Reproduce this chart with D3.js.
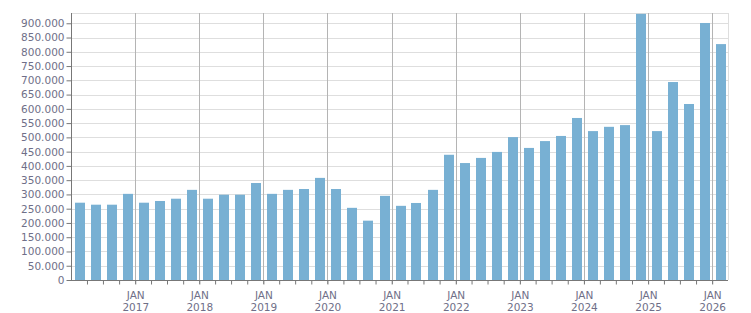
<!DOCTYPE html>
<html lang="en">
<head>
    <meta charset="UTF-8">
    <title>Quarterly chart</title>
    <script src="https://cdn.jsdelivr.net/npm/d3@7"></script>
    <style>
        body { margin: 0; background: white; }
        .tick text { font-family: "DejaVu Sans", Verdana, sans-serif; font-size: 10.5px; fill: #6f6f88; }
        .bar { fill: #78b0d3; }
    </style>
</head>
<body>

<script>
    const width = 751, height = 313;
    const margin = {top: 13, right: 23, bottom: 33, left: 71};

    // one bar per quarter, Q1 2016 .. Q1 2026
    const quarters = [
        "2016-01", "2016-04", "2016-07", "2016-10",
        "2017-01", "2017-04", "2017-07", "2017-10",
        "2018-01", "2018-04", "2018-07", "2018-10",
        "2019-01", "2019-04", "2019-07", "2019-10",
        "2020-01", "2020-04", "2020-07", "2020-10",
        "2021-01", "2021-04", "2021-07", "2021-10",
        "2022-01", "2022-04", "2022-07", "2022-10",
        "2023-01", "2023-04", "2023-07", "2023-10",
        "2024-01", "2024-04", "2024-07", "2024-10",
        "2025-01", "2025-04", "2025-07", "2025-10",
        "2026-01"
    ];
    const values = [
        271000, 264000, 264000, 302000,
        271000, 277000, 285000, 316000,
        285000, 299000, 299000, 340000,
        302000, 316000, 319000, 358000,
        319000, 253000, 208000, 295000,
        260000, 270000, 316000, 439000,
        410000, 428000, 449000, 501000,
        463000, 487000, 505000, 568000,
        522000, 537000, 543000, 933000,
        522000, 694000, 617000, 901000,
        827000
    ];
    const yTicks = d3.range(0, 900001, 50000);

    const parse = d3.timeParse("%Y-%m");
    const data = quarters.map((q, i) => ({start: parse(q), value: values[i]}));

    const x = d3.scaleTime()
                .domain([parse("2016-01"), parse("2026-04")])
                .range([margin.left, width - margin.right]);
    const y = d3.scaleLinear()
                .domain([0, 936000])
                .range([height - margin.bottom, margin.top]);

    const fmt = v => v === 0 ? "0" : d3.format(",")(v).replace(/,/g, ".");

    const svg = d3.select("body")
                  .append("svg")
                  .attr("width", width)
                  .attr("height", height);

    // horizontal grid
    svg.append("g")
       .selectAll("line")
       .data(yTicks.concat([936000]))
       .join("line")
       .attr("x1", margin.left).attr("x2", width - margin.right)
       .attr("y1", d => Math.round(y(d)) + 0.5).attr("y2", d => Math.round(y(d)) + 0.5)
       .attr("stroke", "#dedede");

    // right border
    svg.append("line")
       .attr("x1", width - margin.right + 0.5).attr("x2", width - margin.right + 0.5)
       .attr("y1", margin.top).attr("y2", height - margin.bottom)
       .attr("stroke", "#dedede");

    // january grid lines
    const years = d3.timeYear.range(parse("2017-01"), parse("2026-02"));
    svg.append("g")
       .selectAll("line")
       .data(years)
       .join("line")
       .attr("x1", d => Math.round(x(d)) + 0.5).attr("x2", d => Math.round(x(d)) + 0.5)
       .attr("y1", margin.top).attr("y2", height - margin.bottom + 4)
       .attr("stroke", "#b4b4b4");

    // bars
    svg.selectAll("rect.bar")
       .data(data)
       .join("rect").attr("class", "bar")
       .attr("x", d => {
           const x0 = x(d.start), x1 = x(d3.timeMonth.offset(d.start, 3));
           return Math.round((x0 + x1) / 2 - 4);
       })
       .attr("width", 10)
       .attr("y", d => y(d.value))
       .attr("height", d => y(0) - y(d.value));

    // y axis
    const yAxis = svg.append("g")
       .attr("transform", `translate(${margin.left + 0.5},0)`)
       .call(d3.axisLeft(y).tickValues(yTicks).tickFormat(fmt).tickSize(5).tickPadding(2));
    yAxis.select(".domain").attr("stroke", "#777").attr("d", `M0,${margin.top}V${height - margin.bottom}`);
    yAxis.selectAll(".tick line").attr("stroke", "#777");

    // x axis: a small tick every quarter, labels on january
    const xAxis = svg.append("g")
       .attr("transform", `translate(0,${height - margin.bottom + 0.5})`)
       .call(d3.axisBottom(x)
               .tickValues(d3.timeMonth.range(parse("2016-04"), parse("2026-04"), 3))
               .tickSize(4)
               .tickFormat(""));
    xAxis.select(".domain").attr("stroke", "#777").attr("d", `M${margin.left},0H${width - margin.right}`);
    xAxis.selectAll(".tick line").attr("stroke", "#777");

    const labels = svg.append("g")
       .selectAll("text")
       .data(years)
       .join("text")
       .attr("x", d => x(d) + 0.5)
       .attr("text-anchor", "middle")
       .style("font-family", "'DejaVu Sans', Verdana, sans-serif")
       .style("font-size", "10.5px")
       .style("fill", "#6f6f88");
    labels.append("tspan").attr("x", d => x(d) + 0.5).attr("y", 299).text("JAN");
    labels.append("tspan").attr("x", d => x(d) + 0.5).attr("y", 311).text(d => d.getFullYear());
</script>

</body>
</html>
